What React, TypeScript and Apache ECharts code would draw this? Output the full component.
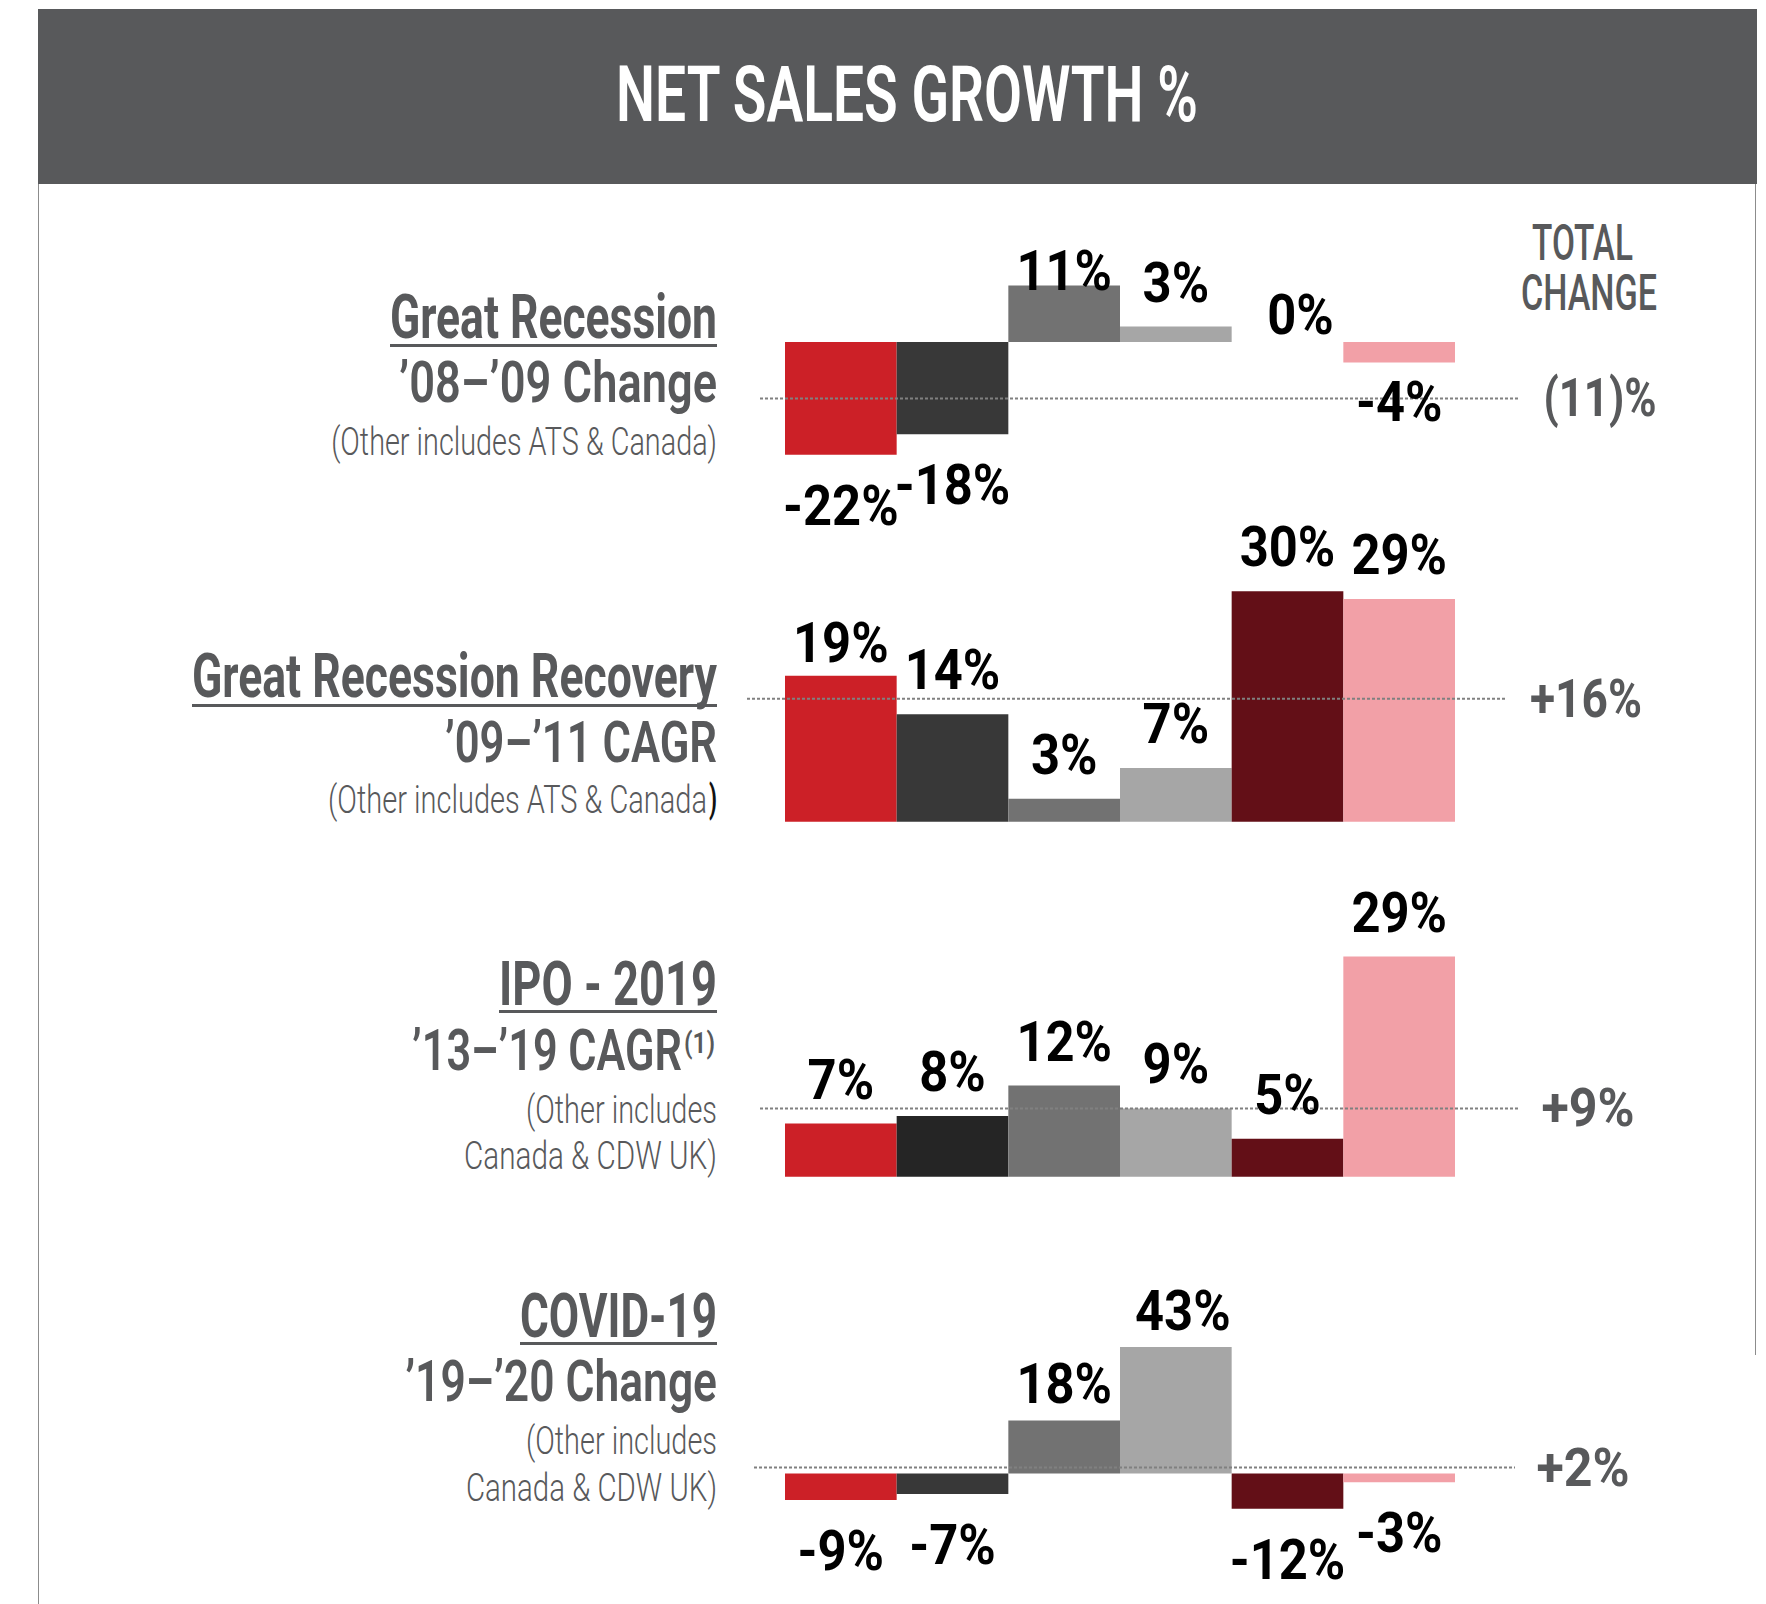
import React, { useEffect, useRef } from "react";
import * as echarts from "echarts";

// ---------------- data ----------------
const categories = ["Corporate", "Small Business", "Government", "Education", "Healthcare", "Other"];
const greatRecession = [-22, -18, 11, 3, 0, -4];
const recovery = [19, 14, 3, 7, 30, 29];
const ipo2019 = [7, 8, 12, 9, 5, 29];
const covid19 = [-9, -7, 18, 43, -12, -3];
const totalChange = [-11, 16, 9, 2];
const totalLabels = ["(11)%", "+16%", "+9%", "+2%"];
const panelTitles = ["Great Recession", "Great Recession Recovery", "IPO - 2019", "COVID-19"];
const panelPeriods = ["’08–’09 Change", "’09–’11 CAGR", "’13–’19 CAGR", "’19–’20 Change"];
const panelNotes = [
  ["(Other includes ATS & Canada)"],
  ["(Other includes ATS & Canada)"],
  ["(Other includes", "Canada & CDW UK)"],
  ["(Other includes", "Canada & CDW UK)"],
];
const panelValues = [greatRecession, recovery, ipo2019, covid19];

// ---------------- styles / layout ----------------
const BAR_COLORS = ["#cc2027", "#383838", "#727272", "#a6a6a6", "#630f17", "#f2a0a7"];
const GREY_TEXT = "#58595b";
const FONT = "Roboto";
const TEXT_RIGHT = 717;
const BAR_LEFT = 785;
const BAR_WIDTH_TOTAL = 670;

const LABEL_CAP = 40;
const LABEL_FONT = `bold ${(LABEL_CAP / 0.711).toFixed(1)}px ${FONT}`;
const LABEL_SCALE_X = 0.9;
const LABEL_GAP_TOP = 24.5;
const LABEL_GAP_BOTTOM = 30.5;

const LAYOUT = [
  { base: 342, scale: 5.13, yMin: -30, yMax: 20, lineL: 760, lineR: 1520, titleY: 317, ulY: 344, periodY: 382.5, noteY: [441], titleW: 327, periodW: 318, noteW: [386], totalX: 1600, totalW: 113 },
  { base: 821.7, scale: 7.68, yMin: -10, yMax: 40, lineL: 747, lineR: 1507, titleY: 675.5, ulY: 704, periodY: 742, noteY: [799.5], titleW: 525, periodW: 272, noteW: [389], totalX: 1586, totalW: 112 },
  { base: 1176.7, scale: 7.59, yMin: -10, yMax: 40, lineL: 760, lineR: 1520, titleY: 983.5, ulY: 1010, periodY: 1050.5, noteY: [1109, 1156], titleW: 218, periodW: 270, noteW: [191, 253], totalX: 1588, totalW: 93 },
  { base: 1473.5, scale: 2.94, yMin: -20, yMax: 50, lineL: 754, lineR: 1515, titleY: 1315.5, ulY: 1342, periodY: 1381, noteY: [1440.5, 1487.5], titleW: 197, periodW: 312, noteW: [191, 251], totalX: 1583, totalW: 93 },
];

// manual label nudges [dx, dy] for hand-placed labels in the original
const LABEL_NUDGE: Record<string, [number, number]> = {
  "0-2": [0, 29],
  "0-4": [13, 17],
  "0-5": [0, -11],
  "1-0": [0, 11],
  "3-2": [0, 7],
  "3-3": [7, 8],
};

let measureCtx: CanvasRenderingContext2D | null = null;
function measure(text: string, font: string): number {
  if (!measureCtx) measureCtx = document.createElement("canvas").getContext("2d");
  if (!measureCtx) return text.length * 20;
  measureCtx.font = font;
  return measureCtx.measureText(text).width || 1;
}

function fitText(
  text: string,
  x: number,
  cy: number,
  capH: number,
  weight: number | string,
  targetW: number,
  align: "left" | "right" | "center",
  color: string
) {
  const size = capH / 0.711;
  const font = `${weight} ${size.toFixed(1)}px ${FONT}`;
  const w = measure(text, font);
  const sx = targetW / w;
  return {
    type: "text",
    x,
    y: cy,
    scaleX: sx,
    silent: true,
    z: 10,
    style: {
      text,
      font,
      fill: color,
      align,
      verticalAlign: "middle",
      textAlign: align,
      textVerticalAlign: "middle",
    },
  };
}

export default function App() {
  const ref = useRef<HTMLDivElement>(null);

  useEffect(() => {
    if (!ref.current) return;
    const chart = echarts.init(ref.current, undefined, { renderer: "svg" });

    const grids: any[] = [];
    const xAxes: any[] = [];
    const yAxes: any[] = [];
    const series: any[] = [];

    LAYOUT.forEach((L, i) => {
      const top = L.base - L.yMax * L.scale;
      const height = (L.yMax - L.yMin) * L.scale;
      grids.push({ left: BAR_LEFT, top, width: BAR_WIDTH_TOTAL, height, containLabel: false });
      xAxes.push({ type: "category", gridIndex: i, data: categories, show: false, boundaryGap: true });
      yAxes.push({ type: "value", gridIndex: i, min: L.yMin, max: L.yMax, show: false });
    });
    LAYOUT.forEach((L, i) => {
      const top = L.base - L.yMax * L.scale;
      const height = (L.yMax - L.yMin) * L.scale;
      grids.push({ left: L.lineL, top, width: L.lineR - L.lineL, height, containLabel: false });
      xAxes.push({ type: "value", gridIndex: 4 + i, min: 0, max: 1, show: false });
      yAxes.push({ type: "value", gridIndex: 4 + i, min: L.yMin, max: L.yMax, show: false });
    });

    panelValues.forEach((vals, i) => {
      series.push({
        type: "bar",
        name: panelTitles[i],
        xAxisIndex: i,
        yAxisIndex: i,
        barCategoryGap: "0%",
        barWidth: "100%",
        silent: true,
        z: 2,
        data: vals.map((v, j) => {
          let color = BAR_COLORS[j];
          if (i === 2 && j === 1) color = "#252525";
          return { value: v, itemStyle: { color } };
        }),
      });
    });

    totalChange.forEach((t, i) => {
      series.push({
        type: "line",
        name: `total-${i}`,
        xAxisIndex: 4 + i,
        yAxisIndex: 4 + i,
        data: [
          [0, t],
          [1, t],
        ],
        symbol: "none",
        silent: true,
        z: 5,
        lineStyle: { type: [3, 2], width: 2, color: "#808080" },
      });
    });

    // value labels: custom series placed through the bar axes
    panelValues.forEach((vals, i) => {
      series.push({
        type: "custom",
        name: `labels-${i}`,
        coordinateSystem: "cartesian2d",
        xAxisIndex: i,
        yAxisIndex: i,
        silent: true,
        z: 8,
        encode: { x: 0, y: 1 },
        data: vals.map((v, j) => [j, v]),
        renderItem: (params: any, api: any) => {
          const j = api.value(0);
          const v = api.value(1);
          const pt = api.coord([j, v]);
          const nudge = LABEL_NUDGE[`${i}-${j}`] || [0, 0];
          const cy = v >= 0 ? pt[1] - LABEL_GAP_TOP - LABEL_CAP / 2 : pt[1] + LABEL_GAP_BOTTOM + LABEL_CAP / 2;
          return {
            type: "text",
            x: pt[0] + nudge[0],
            y: cy + nudge[1],
            scaleX: LABEL_SCALE_X,
            style: {
              text: `${v}%`,
              font: LABEL_FONT,
              fill: "#000000",
              textFill: "#000000",
              align: "center",
              verticalAlign: "middle",
              textAlign: "center",
              textVerticalAlign: "middle",
            },
          };
        },
      });
    });

    chart.setOption({
      animation: false,
      backgroundColor: "#ffffff",
      grid: grids,
      xAxis: xAxes,
      yAxis: yAxes,
      series,
    });

    // ---- static texts & decorations ----
    const g: any[] = [];
    g.push({ type: "rect", shape: { x: 38, y: 9, width: 1719, height: 175 }, style: { fill: "#58595b" }, silent: true, z: 1 });
    g.push({ type: "line", shape: { x1: 38.5, y1: 184, x2: 38.5, y2: 1604 }, style: { stroke: "#8c8c8c", lineWidth: 1 }, silent: true });
    g.push({ type: "line", shape: { x1: 1755.5, y1: 184, x2: 1755.5, y2: 1355 }, style: { stroke: "#8c8c8c", lineWidth: 1 }, silent: true });
    g.push(fitText("NET SALES GROWTH %", 907, 94.5, 55, 600, 583, "center", "#ffffff"));
    g.push(fitText("TOTAL", 1582.5, 242, 36, 500, 101, "center", GREY_TEXT));
    g.push(fitText("CHANGE", 1589, 293, 36, 500, 136, "center", GREY_TEXT));

    LAYOUT.forEach((L, i) => {
      g.push(fitText(panelTitles[i], TEXT_RIGHT, L.titleY, 44, 700, L.titleW, "right", GREY_TEXT));
      g.push({
        type: "rect",
        shape: { x: TEXT_RIGHT - L.titleW, y: L.ulY, width: L.titleW, height: 3 },
        style: { fill: GREY_TEXT },
        silent: true,
      });
      if (i === 2) {
        g.push(fitText(panelPeriods[i], 682, L.periodY, 41, 600, L.periodW, "right", GREY_TEXT));
        g.push(fitText("(1)", 715, 1043, 21, 600, 31, "right", GREY_TEXT));
      } else {
        g.push(fitText(panelPeriods[i], TEXT_RIGHT, L.periodY, 41, 600, L.periodW, "right", GREY_TEXT));
      }
      panelNotes[i].forEach((note, k) => {
        if (i === 1) {
          const main = note.slice(0, -1);
          g.push(fitText(main, TEXT_RIGHT - 10, L.noteY[k], 27.5, 300, L.noteW[k] - 10, "right", GREY_TEXT));
          g.push(fitText(")", TEXT_RIGHT, L.noteY[k], 27.5, 700, 8, "right", "#111111"));
        } else {
          g.push(fitText(note, TEXT_RIGHT, L.noteY[k], 27.5, 300, L.noteW[k], "right", GREY_TEXT));
        }
      });
      const px = chart.convertToPixel({ gridIndex: 4 + i } as any, [0, totalChange[i]]) as number[];
      const cy = px && px.length ? px[1] : L.base;
      g.push(fitText(totalLabels[i], L.totalX, cy, 38, 700, L.totalW, "center", GREY_TEXT));
    });

    chart.setOption({ graphic: { elements: g } });

    return () => {
      chart.dispose();
    };
  }, []);

  return (
    <div
      ref={ref}
      style={{ position: "absolute", left: 0, top: 0, width: 1766, height: 1604, background: "#fff" }}
    />
  );
}
